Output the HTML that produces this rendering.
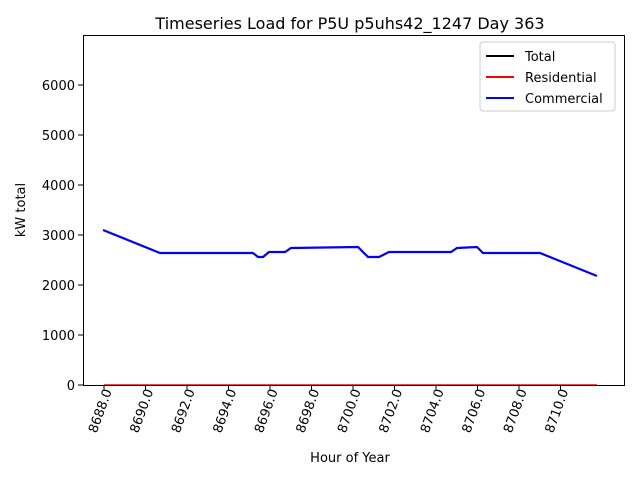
<!DOCTYPE html>
<html><head><style>body{margin:0;background:#fff}svg{display:block;font-family:"DejaVu Sans","Liberation Sans",sans-serif}</style></head>
<body>
<svg width="640" height="480" viewBox="0 0 640 480" xmlns="http://www.w3.org/2000/svg">
<rect width="640" height="480" fill="#fff"/>
<text x="350" y="29" font-size="16" text-anchor="middle">Timeseries Load for P5U p5uhs42_1247  Day 363</text>
<g stroke="#000" stroke-width="1">
<line x1="83" y1="335" x2="78" y2="335"/>
<line x1="83" y1="385" x2="78" y2="385"/><line x1="83" y1="285" x2="78" y2="285"/><line x1="83" y1="235" x2="78" y2="235"/><line x1="83" y1="185" x2="78" y2="185"/><line x1="83" y1="135" x2="78" y2="135"/><line x1="83" y1="85" x2="78" y2="85"/>
<line x1="104" y1="385" x2="104" y2="390"/><line x1="145.5" y1="385" x2="145.5" y2="390"/><line x1="187" y1="385" x2="187" y2="390"/><line x1="228.5" y1="385" x2="228.5" y2="390"/><line x1="270" y1="385" x2="270" y2="390"/><line x1="311.5" y1="385" x2="311.5" y2="390"/><line x1="353" y1="385" x2="353" y2="390"/><line x1="394.5" y1="385" x2="394.5" y2="390"/><line x1="436" y1="385" x2="436" y2="390"/><line x1="477.5" y1="385" x2="477.5" y2="390"/><line x1="519" y1="385" x2="519" y2="390"/><line x1="560.5" y1="385" x2="560.5" y2="390"/>
</g>
<g font-size="13" text-anchor="end">
<text x="75" y="390">0</text><text x="75" y="340">1000</text><text x="75" y="290">2000</text><text x="75" y="240">3000</text><text x="75" y="190">4000</text><text x="75" y="140">5000</text><text x="75" y="90">6000</text>
</g>
<g font-size="13" text-anchor="end">
<text transform="translate(112,391) rotate(-70)">8688.0</text>
<text transform="translate(153.5,391) rotate(-70)">8690.0</text>
<text transform="translate(195,391) rotate(-70)">8692.0</text>
<text transform="translate(236.5,391) rotate(-70)">8694.0</text>
<text transform="translate(278,391) rotate(-70)">8696.0</text>
<text transform="translate(319.5,391) rotate(-70)">8698.0</text>
<text transform="translate(361,391) rotate(-70)">8700.0</text>
<text transform="translate(402.5,391) rotate(-70)">8702.0</text>
<text transform="translate(444,391) rotate(-70)">8704.0</text>
<text transform="translate(485.5,391) rotate(-70)">8706.0</text>
<text transform="translate(527,391) rotate(-70)">8708.0</text>
<text transform="translate(568.5,391) rotate(-70)">8710.0</text>
</g>
<text x="350" y="462" font-size="13" text-anchor="middle">Hour of Year</text>
<text transform="translate(25,210) rotate(-90)" font-size="13" text-anchor="middle">kW total</text>
<polyline fill="none" stroke="#f00" stroke-width="1.5" points="104,385 597,385"/>
<polyline fill="none" stroke="#0000ff" stroke-width="2.2" points="103,230 160,253 253,253 258,257 263,257 269,252 285,252 291,248 358,247 368,257 379,257 389,252 451,252 457,248 477,247 483,253 540,253 597,276"/>
<rect x="83.5" y="35.5" width="541" height="350" fill="none" stroke="#000" stroke-width="1"/>
<rect x="480" y="42" width="135" height="69" fill="#fff" stroke="#ccc" rx="3"/>
<g font-size="13">
<line x1="486" y1="56" x2="514" y2="56" stroke="#000" stroke-width="2"/><text x="525" y="61">Total</text>
<line x1="486" y1="77" x2="514" y2="77" stroke="#f00" stroke-width="2"/><text x="525" y="82">Residential</text>
<line x1="486" y1="98" x2="514" y2="98" stroke="#00f" stroke-width="2"/><text x="525" y="103">Commercial</text>
</g>
</svg>
</body></html>
